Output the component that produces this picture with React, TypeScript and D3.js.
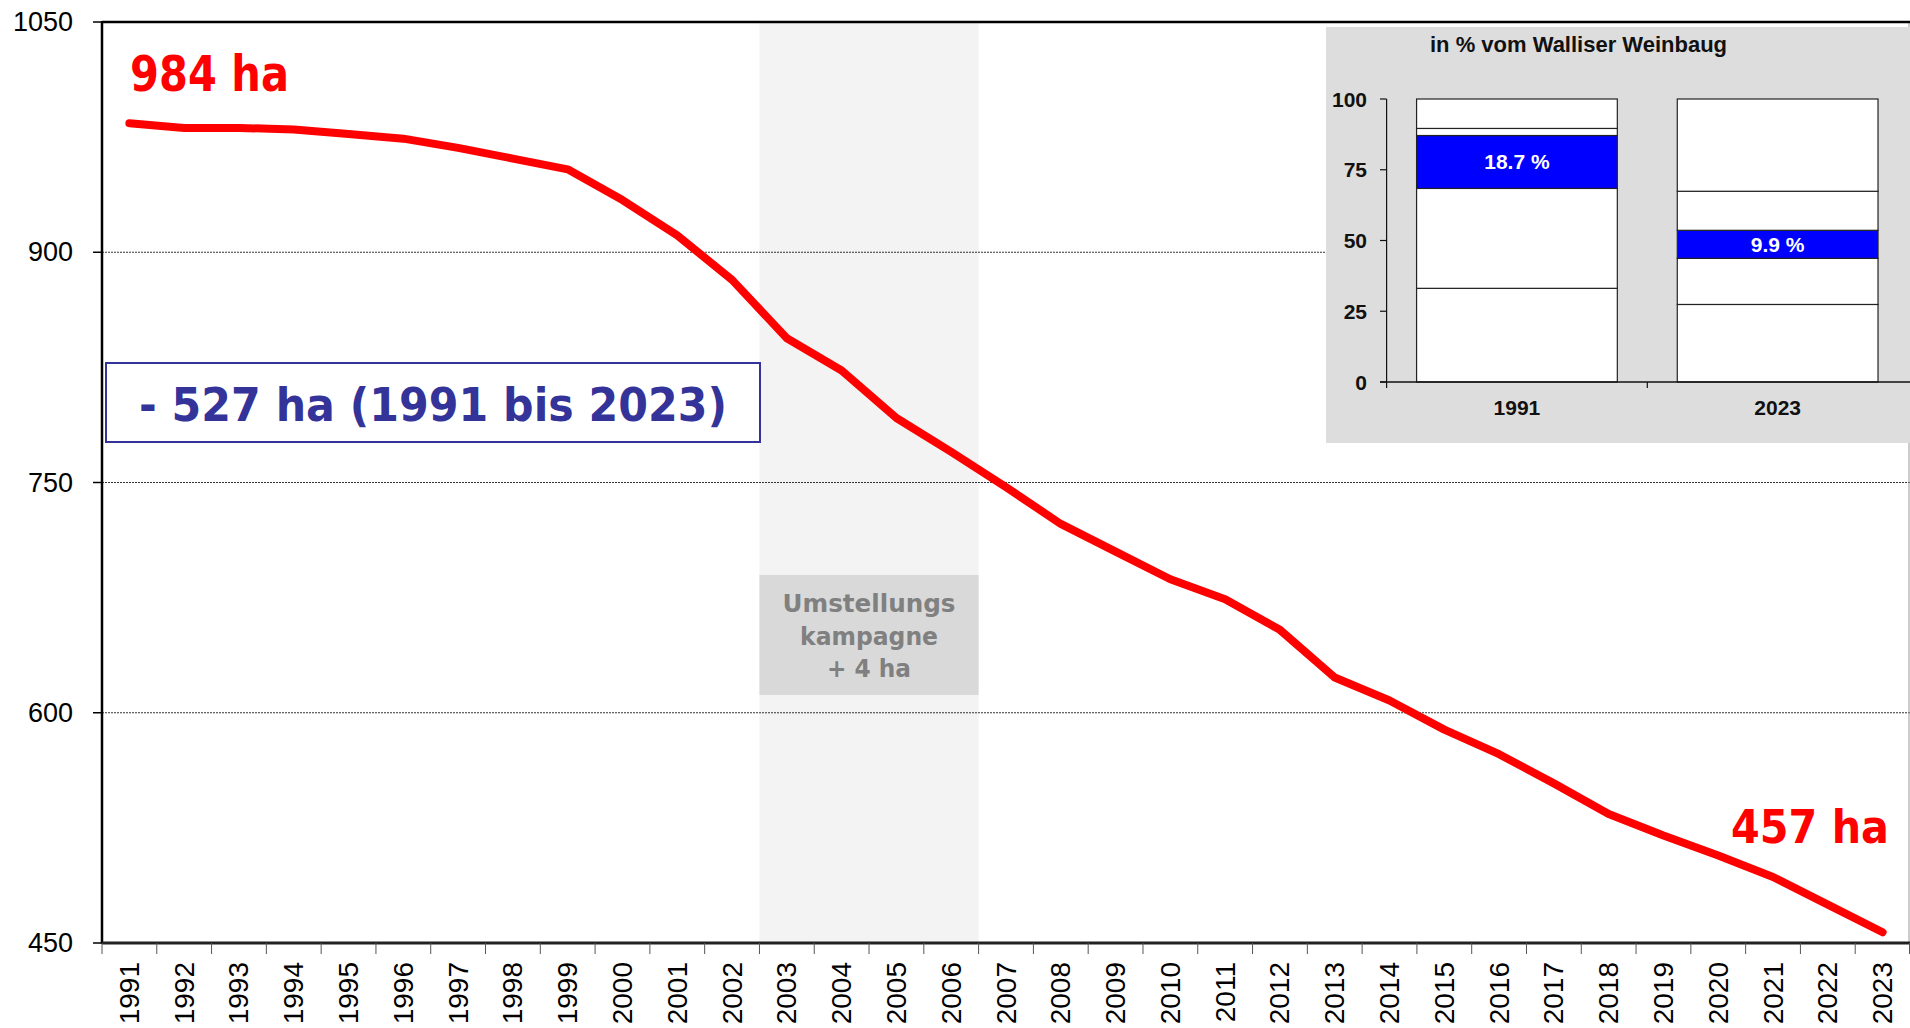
import React from 'react';
import * as d3 from 'd3';

const years = ['1991','1992','1993','1994','1995','1996','1997','1998','1999','2000','2001','2002','2003','2004','2005','2006','2007','2008','2009','2010','2011','2012','2013','2014','2015','2016','2017','2018','2019','2020','2021','2022','2023'];
const hectares = [984, 981, 981, 980, 977, 974, 968, 961, 954, 934, 911, 882, 844, 823, 792, 770, 747, 723, 705, 687, 674, 654, 623, 608, 589, 573, 554, 534, 520, 507, 493, 475, 457];
const yTicks = [450, 600, 750, 900, 1050];
const gridValues = [600, 750, 900];
const campaignYears = ['2003', '2004', '2005', '2006'];
const startLabel = '984 ha';
const endLabel = '457 ha';
const changeLabel = '- 527 ha (1991 bis 2023)';
const campaignLines = ['Umstellungs', 'kampagne', '+ 4 ha'];

const insetTitle = 'in % vom Walliser Weinbaug';
const insetYears = ['1991', '2023'];
const insetShares1991 = [33.1, 35.3, 18.7, 2.5, 10.4];
const insetShares2023 = [27.4, 16.3, 9.9, 13.8, 32.6];
const insetHighlight = 2;
const insetLabels = ['18.7 %', '9.9 %'];
const insetTicks = [0, 25, 50, 75, 100];

const SANS = '"Liberation Sans", Arial, sans-serif';
const BOLD = '"DejaVu Sans", Verdana, sans-serif';

export default function App() {
  const W = 1910, H = 1028;
  const left = 102, right = 1910, top = 22, bottom = 943;
  const x = d3.scaleBand<string>().domain(years).range([left, right]);
  const y = d3.scaleLinear().domain([450, 1050]).range([bottom, top]);
  const bw = x.bandwidth();
  const cx = (yr: string) => (x(yr) as number) + bw / 2;
  const linePath = d3.line<number>()
    .x((_, i) => cx(years[i]))
    .y(d => y(d))(hectares) as string;

  const shadeX0 = x(campaignYears[0]) as number;
  const shadeX1 = (x(campaignYears[campaignYears.length - 1]) as number) + bw;

  // inset
  const ix = d3.scaleBand<string>().domain(insetYears).range([1386.6, 1908]);
  const iy = d3.scaleLinear().domain([0, 100]).range([382, 99]);
  const ibw = ix.bandwidth();
  const barW = ibw * 0.77;
  const shares = [insetShares1991, insetShares2023];

  return (
    <svg width={W} height={H} style={{ position: 'absolute', left: 0, top: 0, background: '#fff' }}>
      {/* campaign shading */}
      <rect x={shadeX0} y={top} width={shadeX1 - shadeX0} height={bottom - top} fill="#f3f3f3" />
      {/* gridlines */}
      {gridValues.map(v => (
        <line key={v} x1={left} x2={right} y1={y(v)} y2={y(v)} stroke="#333" strokeWidth={1} strokeDasharray="2 1" />
      ))}
      {/* campaign box */}
      <rect x={shadeX0} y={575} width={shadeX1 - shadeX0} height={120} fill="#d9d9d9" />
      {campaignLines.map((t, i) => (
        <text key={t} x={(shadeX0 + shadeX1) / 2} y={612 + i * 32.5} textAnchor="middle"
          fontFamily={BOLD} fontWeight="bold" fontSize={25} fill="#808080"
          textLength={[173, 138, 84][i]} lengthAdjust="spacingAndGlyphs">{t}</text>
      ))}
      {/* borders */}
      <line x1={right - 1} x2={right - 1} y1={top} y2={bottom} stroke="#999" strokeWidth={1} />
      <line x1={left} x2={right} y1={top} y2={top} stroke="#000" strokeWidth={2.5} />
      <line x1={left} x2={left} y1={top - 1} y2={bottom + 1} stroke="#000" strokeWidth={2.5} />
      <line x1={left} x2={right} y1={bottom} y2={bottom} stroke="#222" strokeWidth={3} />
      {/* y ticks */}
      {yTicks.map(v => (
        <g key={v}>
          <line x1={93} x2={left} y1={y(v)} y2={y(v)} stroke="#000" strokeWidth={1.5} />
          <text x={73} y={y(v)} textAnchor="end" dominantBaseline="central" fontFamily={SANS} fontSize={27} fill="#000">{v}</text>
        </g>
      ))}
      {/* x ticks */}
      {years.map(yr => (
        <line key={'t' + yr} x1={x(yr) as number} x2={x(yr) as number} y1={bottom} y2={bottom + 11} stroke="#555" strokeWidth={1} />
      ))}
      <line x1={right - 0.5} x2={right - 0.5} y1={bottom} y2={bottom + 11} stroke="#555" strokeWidth={1} />
      {years.map(yr => (
        <text key={'l' + yr} transform={`translate(${cx(yr)},962) rotate(-90)`} textAnchor="end" dominantBaseline="central"
          fontFamily={SANS} fontSize={28} fill="#000">{yr}</text>
      ))}
      {/* main line */}
      <path d={linePath} fill="none" stroke="#ff0000" strokeWidth={8} strokeLinecap="round" strokeLinejoin="round" />
      {/* annotations */}
      <text x={130} y={91} fontFamily={BOLD} fontWeight="bold" fontSize={49} fill="#ff0000"
        textLength={159} lengthAdjust="spacingAndGlyphs">{startLabel}</text>
      <text x={1731} y={843} fontFamily={BOLD} fontWeight="bold" fontSize={46} fill="#ff0000"
        textLength={158} lengthAdjust="spacingAndGlyphs">{endLabel}</text>
      <rect x={106} y={363} width={654} height={79} fill="#fff" stroke="#333399" strokeWidth={2} />
      <text x={139} y={421} fontFamily={BOLD} fontWeight="bold" fontSize={46} fill="#333399"
        textLength={588} lengthAdjust="spacingAndGlyphs">{changeLabel}</text>

      {/* inset */}
      <rect x={1326} y={27} width={W - 1326} height={416} fill="#dddddd" />
      <text x={1430} y={52} fontFamily={SANS} fontWeight="bold" fontSize={22} fill="#111">{insetTitle}</text>
      {insetYears.map((yr, ci) => {
        const vals = shares[ci];
        const cum = Array.from(d3.cumsum(vals));
        const bx = (ix(yr) as number) + (ibw - barW) / 2;
        return (
          <g key={yr}>
            {vals.map((v, si) => {
              const y0 = cum[si] - v, y1 = cum[si];
              return (
                <rect key={si} x={bx} y={iy(y1)} width={barW} height={iy(y0) - iy(y1)}
                  fill={si === insetHighlight ? '#0000ff' : '#ffffff'} stroke="#222" strokeWidth={1.2} />
              );
            })}
            <text x={bx + barW / 2} y={iy(cum[insetHighlight] - vals[insetHighlight] / 2)} textAnchor="middle" dominantBaseline="central"
              fontFamily={SANS} fontWeight="bold" fontSize={21} fill="#fff">{insetLabels[ci]}</text>
            <text x={bx + barW / 2} y={415} textAnchor="middle" fontFamily={SANS} fontWeight="bold" fontSize={21} fill="#111">{yr}</text>
          </g>
        );
      })}
      <line x1={1386.6} x2={1386.6} y1={iy(100)} y2={388} stroke="#111" strokeWidth={1.2} />
      <line x1={1380} x2={W} y1={iy(0)} y2={iy(0)} stroke="#111" strokeWidth={1.5} />
      <line x1={ix(insetYears[1]) as number} x2={ix(insetYears[1]) as number} y1={iy(0)} y2={388} stroke="#111" strokeWidth={1.2} />
      {insetTicks.map(v => (
        <g key={'it' + v}>
          <line x1={1380} x2={1386.6} y1={iy(v)} y2={iy(v)} stroke="#111" strokeWidth={1.2} />
          <text x={1367} y={iy(v)} textAnchor="end" dominantBaseline="central" fontFamily={SANS} fontWeight="bold" fontSize={21} fill="#111">{v}</text>
        </g>
      ))}
    </svg>
  );
}
